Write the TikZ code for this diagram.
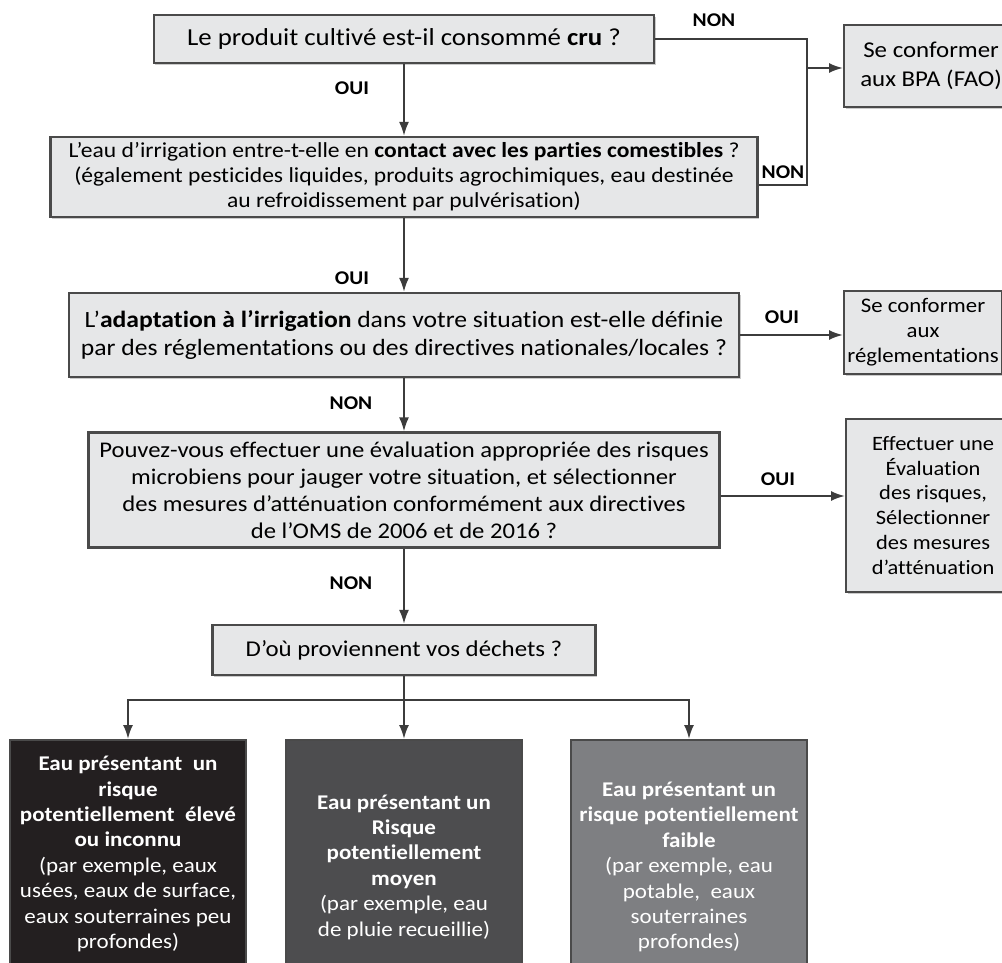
\documentclass[tikz,border=0pt]{standalone}
\usepackage{fontspec}
\setmainfont{Carlito}[FakeStretch=1.1, Ligatures=NoCommon]
\usetikzlibrary{arrows.meta,shadows}
\definecolor{boxfill}{HTML}{E6E7E8}
\definecolor{boxline}{HTML}{4A4A4A}
\definecolor{lineclr}{HTML}{3C3C3C}
\definecolor{riskhigh}{HTML}{231F20}
\definecolor{riskmid}{HTML}{4D4D4F}
\definecolor{risklow}{HTML}{7E7F82}
\tikzset{
  qbox/.style={
    draw=boxline,
    fill=boxfill,
    line width=2.2bp,
    align=center,
    inner sep=2bp,
    drop shadow={shadow xshift=1.5bp,shadow yshift=-1.5bp,fill=black!40},
    font=\fontsize{22.7}{28}\selectfont
  },
  sidebox/.style={
    qbox,
    anchor=west,
    minimum width=174bp,
    font=\fontsize{22}{25}\selectfont
  },
  riskbox/.style={
    draw=boxline,
    line width=2.2bp,
    text=white,
    align=center,
    anchor=north,
    minimum width=236bp,
    minimum height=254bp,
    font=\fontsize{21}{25.5}\selectfont
  },
  lbl/.style={
    font=\bfseries\fontsize{19.5}{22}\selectfont
  },
  flow/.style={
    line width=2bp,
    draw=lineclr
  },
  arrow/.style={
    flow,
    -{Latex[length=14bp,width=10bp]}
  }
}
\begin{document}
\begin{tikzpicture}[x=1bp,y=-1bp]
\useasboundingbox[fill=white] (0,0) rectangle (1002,963);
\clip (0,0) rectangle (1002,963);
% main column
\node[qbox, minimum width=500bp, minimum height=48bp, font=\fontsize{24.5}{28}\selectfont] (cru) at (404,39)
  {Le produit cultivé est-il consommé \textbf{cru} ?};
\node[qbox, minimum width=707bp, minimum height=80bp, font=\fontsize{21.5}{25}\selectfont] (contact) at (404,177)
  {L’eau d’irrigation entre-t-elle en \textbf{contact avec les parties comestibles} ?\\
   (également pesticides liquides, produits agrochimiques, eau destinée\\
   au refroidissement par pulvérisation)};
\node[qbox, minimum width=670bp, minimum height=84bp, font=\fontsize{23.4}{28}\selectfont] (adapt) at (404,335)
  {L’\textbf{adaptation à l’irrigation} dans votre situation est-elle définie\\
   par des réglementations ou des directives nationales/locales ?};
\node[qbox, minimum width=631bp, minimum height=115bp, font=\fontsize{22.5}{27}\selectfont] (qmra) at (404,490)
  {Pouvez-vous effectuer une évaluation appropriée des risques\\
   microbiens pour jauger votre situation, et sélectionner\\
   des mesures d’atténuation conformément aux directives\\
   de l’OMS de 2006 et de 2016 ?};
\node[qbox, minimum width=383bp, minimum height=50bp] (source) at (404,650)
  {D’où proviennent vos déchets ?};
% answers on the right
\node[sidebox, minimum height=82bp, font=\fontsize{22.7}{29}\selectfont] (bpa) at (843,66)
  {Se conformer\\aux BPA (FAO)};
\node[sidebox, minimum width=158bp, minimum height=83bp, font=\fontsize{20.8}{25}\selectfont] (regl) at (843,332.5)
  {Se conformer\\aux\\réglementations};
\node[sidebox, minimum height=173bp, font=\fontsize{20.5}{25}\selectfont] (evalr) at (845,505.5)
  {Effectuer une\\Évaluation\\des risques,\\Sélectionner\\des mesures\\d’atténuation};
% kinds of water
\node[riskbox, fill=riskhigh, minimum height=228bp] (high) at (128,739)
  {\textbf{Eau présentant\ \ un}\\\textbf{risque}\\\textbf{potentiellement\ \ élevé}\\\textbf{ou inconnu}\\
   (par exemple, eaux\\usées, eaux de surface,\\eaux souterraines peu\\profondes)};
\node[riskbox, fill=riskmid] (mid) at (404,739)
  {\textbf{Eau présentant un}\\\textbf{Risque}\\\textbf{potentiellement}\\\textbf{moyen}\\
   (par exemple, eau\\de pluie recueillie)};
\node[riskbox, fill=risklow] (low) at (689,739)
  {\textbf{Eau présentant un}\\\textbf{risque potentiellement}\\\textbf{faible}\\
   (par exemple, eau\\potable,\ \ eaux\\souterraines\\profondes)};
% connectors
\coordinate (merge) at (807,68);
\coordinate (split) at (404,700);
\draw[arrow] (cru) -- (contact);
\draw[arrow] (contact) -- (adapt);
\draw[arrow] (adapt) -- (qmra);
\draw[arrow] (qmra) -- (source);
\draw[flow] (cru.east) -| (merge);
\draw[flow] ([yshift=-8bp]contact.east) -| (merge);
\draw[arrow] (merge) -- (merge -| bpa.west);
\draw[arrow] (adapt.east) -- (adapt.east -| regl.west);
\draw[arrow] ([yshift=-6bp]qmra.east) -- ([yshift=-6bp]qmra.east -| evalr.west);
\draw[flow] (source) -- (split);
\draw[arrow] (split) -| (high);
\draw[arrow] (split) -- (mid);
\draw[arrow] (split) -| (low);
% answer labels
\node[lbl] (non1) at (714,20) {NON};
\node[lbl] (oui1) at (352,88) {OUI};
\node[lbl] (non2) at (783,172) {NON};
\node[lbl] (oui2) at (352,278) {OUI};
\node[lbl] (oui3) at (782,317) {OUI};
\node[lbl] (non3) at (351,403) {NON};
\node[lbl] (oui4) at (778,479) {OUI};
\node[lbl] (non4) at (351,583) {NON};
\end{tikzpicture}
\end{document}
